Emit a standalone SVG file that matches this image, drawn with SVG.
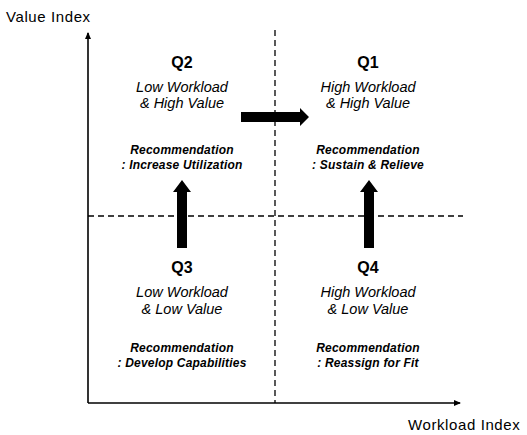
<svg xmlns="http://www.w3.org/2000/svg" width="527" height="435" viewBox="0 0 527 435">
<style>
text{font-family:"Liberation Sans",Arial,sans-serif;fill:#000;text-anchor:middle}
.ax{font-size:15px;letter-spacing:0.6px;text-anchor:start}
.q{font-size:16px;font-weight:bold}
.d{font-size:14.5px;font-style:italic}
.r{font-size:12px;font-style:italic;font-weight:bold;letter-spacing:0.2px}
.axis{stroke:#000;stroke-width:1.6;fill:none}
.dash{stroke:#000;stroke-width:1.3;stroke-dasharray:6,4;fill:none}
</style>
<defs>
<marker id="ah" markerWidth="8" markerHeight="8" refX="6" refY="4" orient="auto" markerUnits="userSpaceOnUse">
<path d="M0,1 L7,4 L0,7 Z" fill="#000"/>
</marker>
</defs>
<rect width="527" height="435" fill="#fff"/>
<g id="axes">
<line class="axis" x1="88" y1="403" x2="88" y2="33" marker-end="url(#ah)"/>
<line class="axis" x1="88" y1="403" x2="460" y2="403" marker-end="url(#ah)"/>
<text class="ax" x="6" y="22">Value Index</text>
<text class="ax" x="408" y="430">Workload Index</text>
</g>
<g id="dividers">
<line class="dash" x1="275" y1="30" x2="275" y2="403"/>
<line class="dash" x1="88" y1="216" x2="463" y2="216"/>
</g>
<g id="connectors">
<polygon points="241,112 300,112 300,108 309,117 300,126 300,122 241,122" fill="#000"/>
<polygon points="177,248 177,192 173,192 182,180 191,192 187,192 187,248" fill="#000"/>
<polygon points="364,248 364,192 360,192 369,180 378,192 374,192 374,248" fill="#000"/>
</g>
<g id="q2">
<text class="q" x="182" y="68">Q2</text>
<text class="d" x="182" y="92">Low Workload</text>
<text class="d" x="182" y="108">&amp; High Value</text>
<text class="r" x="182" y="154">Recommendation</text>
<text class="r" x="182" y="169">: Increase Utilization</text>
</g>
<g id="q1">
<text class="q" x="368" y="68">Q1</text>
<text class="d" x="368" y="92">High Workload</text>
<text class="d" x="368" y="108">&amp; High Value</text>
<text class="r" x="368" y="154">Recommendation</text>
<text class="r" x="368" y="169">: Sustain &amp; Relieve</text>
</g>
<g id="q3">
<text class="q" x="182" y="273">Q3</text>
<text class="d" x="182" y="297">Low Workload</text>
<text class="d" x="182" y="314">&amp; Low Value</text>
<text class="r" x="182" y="352">Recommendation</text>
<text class="r" x="182" y="367">: Develop Capabilities</text>
</g>
<g id="q4">
<text class="q" x="368" y="273">Q4</text>
<text class="d" x="368" y="297">High Workload</text>
<text class="d" x="368" y="314">&amp; Low Value</text>
<text class="r" x="368" y="352">Recommendation</text>
<text class="r" x="368" y="367">: Reassign for Fit</text>
</g>
</svg>
